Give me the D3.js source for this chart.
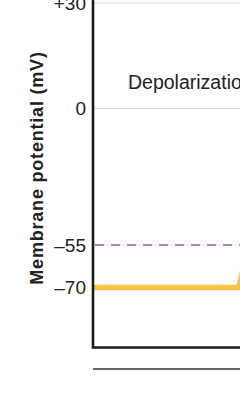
<!DOCTYPE html>
<html>
<head>
<meta charset="utf-8">
<script src="https://cdn.jsdelivr.net/npm/d3@7"></script>
<style>
html,body{margin:0;padding:0;background:#fff;}
svg{display:block;}
text{font-family:"Liberation Sans",Arial,Helvetica,sans-serif;fill:#222;}
</style>
</head>
<body>
<svg id="chart" width="240" height="409"></svg>
<script>
// ---- data ----
const tickValues = [30, 0, -55, -70];
const tickLabels = ["+30", "0", "–55", "–70"];
const gridValues = [30, 0];
const thresholdValue = -55;
const restingValue = -70;
// membrane potential trace (time in ms, potential in mV)
const traceTime = [0, 1.02, 1.09, 1.3, 1.6, 2.2, 3.0, 4.0];
const traceMV   = [-70, -70, -55, 30, 0, -70, -80, -70];
// stimulus trace (time in ms, arbitrary level)
const stimTime  = [0, 4.0];
const stimLevel = [0, 0];
const phaseLabel = "Depolarization";
const yTitle = "Membrane potential (mV)";

// ---- layout ----
const svg = d3.select("#chart");
const x0 = 93;
const x = d3.scaleLinear().domain([0, 10]).range([x0, x0 + 1430]);
// schematic (piecewise) voltage scale
const y = d3.scaleLinear().domain([-70, -55, 0, 30]).range([287.5, 245, 108.5, 3]);
const yStim = d3.scaleLinear().domain([0, 1]).range([369, 340]);
const xRight = 240;

// gridlines
svg.selectAll("line.grid").data(gridValues).join("line")
  .attr("class", "grid")
  .attr("x1", x0).attr("x2", xRight)
  .attr("y1", d => y(d)).attr("y2", d => y(d))
  .attr("stroke", "#d6d6d6").attr("stroke-width", 1.2);

// threshold dashed line
svg.append("line")
  .attr("x1", x0 + 2).attr("x2", xRight)
  .attr("y1", y(thresholdValue)).attr("y2", y(thresholdValue))
  .attr("stroke", "#b07cc4").attr("stroke-width", 2)
  .attr("stroke-dasharray", "9,7");

// trace
const trace = traceTime.map((t, i) => ({t, v: traceMV[i]}));
svg.append("path")
  .datum(trace)
  .attr("d", d3.line().x(d => x(d.t)).y(d => y(d.v)))
  .attr("fill", "none")
  .attr("stroke", "#f4c447")
  .attr("stroke-width", 5.5)
  .attr("stroke-linejoin", "round");

// y axis
const yAxis = d3.axisLeft(y).tickValues(tickValues)
  .tickFormat((d, i) => tickLabels[i]).tickSize(0).tickPadding(7);
const gy = svg.append("g").attr("transform", `translate(${x0},0)`).call(yAxis);
gy.select(".domain").remove();
gy.selectAll("text").attr("font-size", 19).attr("fill", "#222")
  .attr("font-family", "'Liberation Sans',Arial,sans-serif");

// axis lines (frame)
svg.append("path")
  .attr("d", `M${x0},0 V347.5 H${xRight}`)
  .attr("fill", "none").attr("stroke", "#1a1a1a").attr("stroke-width", 2.6);

// stimulus line
const stim = stimTime.map((t, i) => ({t, s: stimLevel[i]}));
svg.append("path")
  .datum(stim)
  .attr("d", d3.line().x(d => x(d.t)).y(d => yStim(d.s)))
  .attr("fill", "none").attr("stroke", "#333").attr("stroke-width", 1.6);

// phase label
svg.append("text")
  .attr("x", 128).attr("y", 88.5)
  .attr("font-size", 19.5)
  .text(phaseLabel);

// y title
svg.append("text")
  .attr("transform", "translate(43,168) rotate(-90)")
  .attr("text-anchor", "middle")
  .attr("font-size", 18).attr("font-weight", "bold")
  .attr("letter-spacing", 0.8)
  .text(yTitle);
</script>
</body>
</html>
